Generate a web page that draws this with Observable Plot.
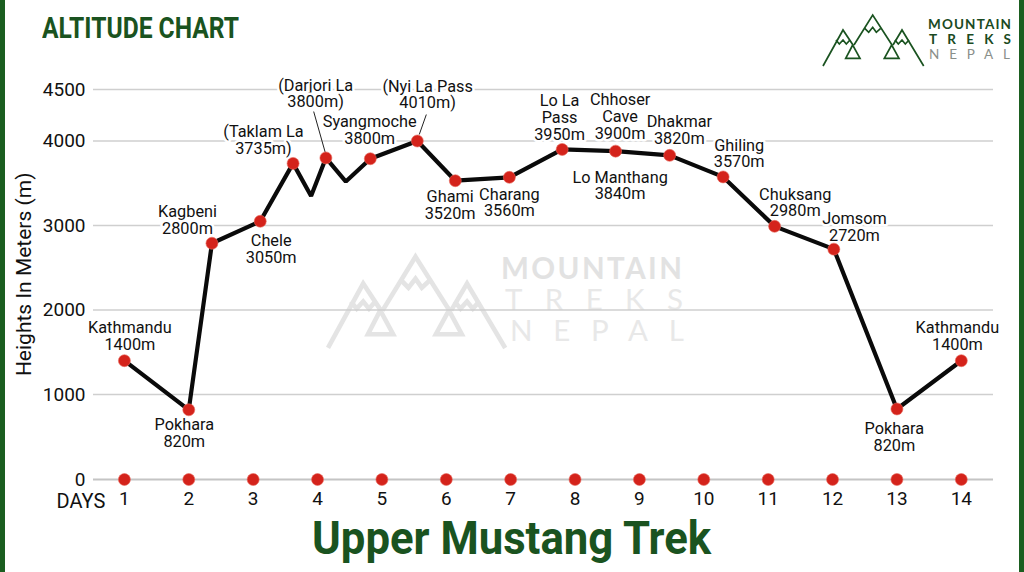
<!DOCTYPE html>
<html>
<head>
<meta charset="utf-8">
<script src="https://cdn.jsdelivr.net/npm/d3@7"></script>
<script src="https://cdn.jsdelivr.net/npm/@observablehq/plot@0.6"></script>
<style>
html,body{margin:0;padding:0;background:#fff}
#page{position:relative;width:1024px;height:572px;overflow:hidden;background:#fff}
#page>svg,#chart{position:absolute;left:0;top:0;width:1024px;height:572px}
#page .bar{position:absolute;top:0;bottom:0;width:5px;background:#1b5e20}
.head{position:absolute;color:#1a5320;font-family:Roboto,sans-serif;font-weight:700;white-space:nowrap;transform-origin:0 50%}
</style>
</head>
<body>
<div id="page">
<svg width="1024" height="572" style="font-family:Lato,sans-serif">
  <defs>
    <g id="peaks" fill="none" stroke-linejoin="miter">
      <path d="M0,51L20,15L30,30M31,30L49.7,0L69,30M70,30L79,15L100.7,51"/>
      <path d="M29.7,30L22.7,43.3H37ZM68.7,30L61.3,43.3H76Z"/>
      <path d="M41.7,13.3L45.7,17.3L49.7,12.3L53.3,17.3L57.7,13.3M13,25L16.3,29L20,25L23.3,29L27,25M72,25L75.3,29L79,25L82.3,29L86,25"/>
    </g>
  </defs>
  <use href="#peaks" transform="translate(328,256.7) scale(1.76,1.79)" stroke="#e4e4e4" stroke-width="2.6"/>
  <g fill="#e2e2e2" text-anchor="start">
    <text x="501" y="279" font-size="29.5" font-weight="700" textLength="181" lengthAdjust="spacing">MOUNTAIN</text>
    <text x="505" y="310" font-size="29.5" fill="#e8e8e8" textLength="178" lengthAdjust="spacing">TREKS</text>
    <text x="510" y="341" font-size="29.5" fill="#e8e8e8" textLength="174" lengthAdjust="spacing">NEPAL</text>
  </g>
  <use href="#peaks" transform="translate(823,15)" stroke="#1a5320" stroke-width="1.7"/>
  <g font-size="13.5">
    <text x="928" y="29" fill="#1a4a22" font-weight="700" textLength="83" lengthAdjust="spacing">MOUNTAIN</text>
    <text x="929" y="44" fill="#1a4a22" font-weight="700" textLength="82" lengthAdjust="spacing">TREKS</text>
    <text x="929" y="59" fill="#8a8f8a" textLength="81" lengthAdjust="spacing">NEPAL</text>
  </g>
</svg>
<div id="chart"></div>
<div class="bar" style="left:0"></div>
<div class="bar" style="right:0"></div>
<div class="head" style="left:42px;top:12px;font-size:30px;line-height:32px;transform:scaleX(.82)">ALTITUDE CHART</div>
<div class="head" style="left:312px;top:512px;font-size:46px;line-height:52px;transform:scaleX(.95)">Upper Mustang Trek</div>
</div>
<script>
// Route: day position and altitude (as plotted); stops carry a marker, the two dips do not
const routeDays = [1, 2, 2.36, 3.11, 3.62, 3.9, 4.13, 4.44, 4.82, 5.55, 6.14, 6.98, 7.8, 8.63, 9.47, 10.3, 11.1, 12.02, 13, 14];
const routeAlts = [1400, 820, 2790, 3050, 3735, 3350, 3800, 3520, 3790, 4000, 3530, 3570, 3900, 3880, 3830, 3575, 2990, 2720, 830, 1400];
const routeStops = [1,1,1,1,1,0,1,0,1,1,1,1,1,1,1,1,1,1,1,1];

// Labels
const labelTexts = ["Kathmandu\n1400m","Pokhara\n820m","Kagbeni\n2800m","Chele\n3050m","(Taklam La\n3735m)","(Darjori La\n3800m)","Syangmoche\n3800m","(Nyi La Pass\n4010m)","Ghami\n3520m","Charang\n3560m","Lo La\nPass\n3950m","Chhoser\nCave\n3900m","Dhakmar\n3820m","Lo Manthang\n3840m","Ghiling\n3570m","Chuksang\n2980m","Jomsom\n2720m","Pokhara\n820m","Kathmandu\n1400m"];
const labelDays = [1.085,1.93,1.98,3.28,3.16,3.97,4.81,5.71,6.06,6.98,7.76,8.70,9.62,8.70,10.55,11.42,12.34,12.96,13.94];
const labelAlts = [1689,543,3060,2717,4010,4461,4102,4451,3237,3272,4228,4238,4102,3473,3851,3272,2977,496,1689];

// Leader lines from two labels to their points
const leaderFromDay = [3.94, 5.69], leaderFromAlt = [4286, 4257];
const leaderToDay = [4.12, 5.58], leaderToAlt = [3864, 4063];

// Axes
const days = [1,2,3,4,5,6,7,8,9,10,11,12,13,14];
const altTicks = [0,1000,2000,3000,4000,4500];

const route = routeDays.map((d,i)=>({d, a:routeAlts[i], stop:routeStops[i]}));
const labels = labelTexts.map((t,i)=>({t, d:labelDays[i], a:labelAlts[i]}));
const leaders = leaderFromDay.map((d,i)=>({d1:d, a1:leaderFromAlt[i], d2:leaderToDay[i], a2:leaderToAlt[i]}));

const font = "Roboto, sans-serif";
const plot = Plot.plot({
  width:1024, height:572,
  marginLeft:93, marginRight:31, marginTop:89, marginBottom:93,
  style:{background:"transparent", fontFamily:font, overflow:"visible"},
  x:{type:"linear", domain:[0.52,14.5], range:[93,993]},
  y:{type:"linear", domain:altTicks, range:[479,394,309.5,225,140.5,89]},
  marks:[
    Plot.ruleY(altTicks.slice(1), {stroke:"#cfcfcf", strokeWidth:1.4}),
    Plot.ruleY([0], {stroke:"#c4c4c4", strokeWidth:2.2}),
    Plot.link(leaders, {x1:"d1", y1:"a1", x2:"d2", y2:"a2", stroke:"#222", strokeWidth:1}),
    Plot.text(labels, {x:"d", y:"a", text:"t", fontSize:16.3, lineHeight:1.03, fill:"#111", stroke:"#fff", strokeWidth:5}),
    Plot.line(route, {x:"d", y:"a", stroke:"#0a0a0a", strokeWidth:4.2, strokeLinejoin:"miter", curve:"linear"}),
    Plot.dot(route.filter(r=>r.stop), {x:"d", y:"a", r:6, fill:"#d4231b", stroke:"#e86a5e", strokeWidth:.6}),
    Plot.dot(days, {x:d=>d, y:()=>0, r:6, fill:"#d4231b", stroke:"#e86a5e", strokeWidth:.6}),
    Plot.axisY(altTicks, {anchor:"left", tickSize:0, tickPadding:8, fontSize:19, fill:"#111", label:null, tickFormat:d=>String(d)}),
    Plot.axisX(days, {anchor:"bottom", tickSize:0, tickPadding:12, fontSize:19, fill:"#111", label:null}),
    Plot.text(["DAYS"], {x:()=>0.325, y:()=>0, dy:22, fontSize:20, fill:"#111"}),
    Plot.text(["Heights In Meters (m)"], {x:()=>-0.55, y:()=>2422, rotate:-90, fontSize:21, fill:"#111"})
  ]
});
document.getElementById("chart").appendChild(plot);
</script>
</body>
</html>
